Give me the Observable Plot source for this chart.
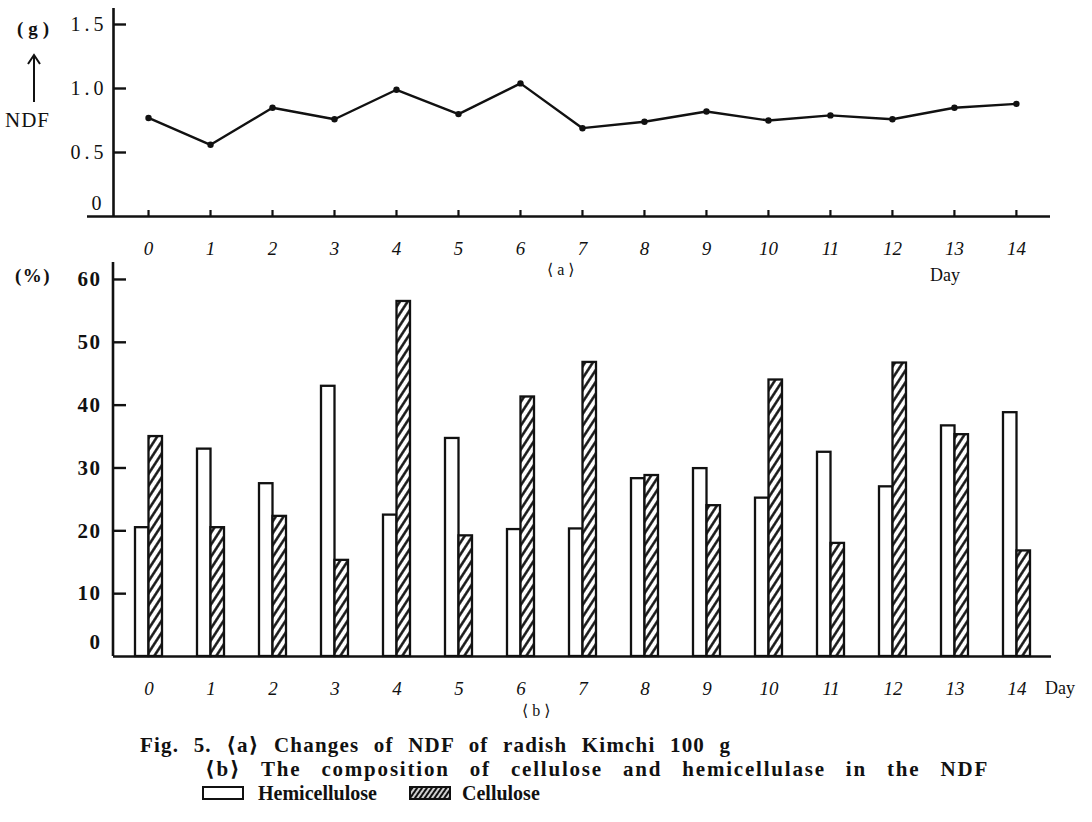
<!DOCTYPE html>
<html><head><meta charset="utf-8">
<script src="https://cdn.jsdelivr.net/npm/d3@7"></script>
<script src="https://cdn.jsdelivr.net/npm/@observablehq/plot@0.6"></script>
<style>
html,body{margin:0;padding:0;background:#fff;}
#wrap{position:relative;width:1092px;height:822px;overflow:hidden;font-family:"Liberation Serif","DejaVu Serif",serif;color:#111;}
.abs{position:absolute;white-space:nowrap;line-height:1;}
#chartA{position:absolute;left:0;top:0;}
#chartB{position:absolute;left:0;top:255px;}
#chartA svg, #chartB svg, #chartA svg text, #chartB svg text, #chartA svg g, #chartB svg g{font-family:"Liberation Serif","DejaVu Serif",serif !important;}
#chartA g[aria-label="y-axis tick label"]{letter-spacing:4px;}
#chartB g[aria-label="y-axis tick label"]{letter-spacing:1.5px;}
.cap{font-weight:bold;font-size:20px;}
.l1{font-size:21px;letter-spacing:1.2px;word-spacing:8px;}
.l2{font-size:21px;letter-spacing:1.8px;word-spacing:13px;}
</style></head>
<body>
<svg width="0" height="0" style="position:absolute">
  <defs>
    <pattern id="hatch" patternUnits="userSpaceOnUse" width="6.5" height="6.5" patternTransform="rotate(33)">
      <rect width="6.5" height="6.5" fill="white"/>
      <line x1="3.25" y1="-1" x2="3.25" y2="7.5" stroke="#111" stroke-width="2.5"/>
    </pattern>
    <pattern id="hatchDense" patternUnits="userSpaceOnUse" width="4" height="4" patternTransform="rotate(35)">
      <rect width="4" height="4" fill="white"/>
      <line x1="2" y1="-1" x2="2" y2="5" stroke="#111" stroke-width="2.4"/>
    </pattern>
  </defs>
</svg>
<div id="wrap">
  <div id="chartA"></div>
  <div id="chartB"></div>
  <div class="abs" style="left:17px;top:19px;font-size:19px;font-weight:bold;letter-spacing:5px;">(g)</div>
  <svg class="abs" style="left:26px;top:52px;" width="16" height="52">
    <line x1="8" y1="4" x2="8" y2="50" stroke="#111" stroke-width="2"/>
    <path d="M2,12 L8,3 L14,12" fill="none" stroke="#111" stroke-width="2"/>
  </svg>
  <div class="abs" style="left:5px;top:110px;font-size:21px;letter-spacing:1px;">NDF</div>
  <div class="abs" style="left:547px;top:262px;font-size:16px;">⟨ a ⟩</div>
  <div class="abs" style="left:930px;top:266px;font-size:18px;">Day</div>
  <div class="abs" style="left:15px;top:266px;font-size:19px;font-weight:bold;letter-spacing:1.5px;">(%)</div>
  <div class="abs" style="left:1045px;top:679px;font-size:18px;">Day</div>
  <div class="abs" style="left:522px;top:703px;font-size:16px;">⟨ b ⟩</div>
  <div class="abs cap l1" style="left:140px;top:735px;">Fig. 5. ⟨a⟩ Changes of NDF of radish Kimchi 100 g</div>
  <div class="abs cap l2" style="left:205px;top:759px;">⟨b⟩ The composition of cellulose and hemicellulase in the NDF</div>
  <svg class="abs" style="left:200px;top:785px;" width="48" height="18">
    <rect x="3" y="2" width="40" height="12" fill="white" stroke="#111" stroke-width="2"/>
  </svg>
  <div class="abs cap" style="left:258px;top:783px;">Hemicellulose</div>
  <svg class="abs" style="left:407px;top:785px;" width="48" height="18">
    <rect x="3" y="2" width="40" height="12" fill="url(#hatchDense)" stroke="#111" stroke-width="2"/>
  </svg>
  <div class="abs cap" style="left:462px;top:783px;">Cellulose</div>
</div>
<script>
// ---- data ----
const days = [0,1,2,3,4,5,6,7,8,9,10,11,12,13,14];
const ndf = [0.77,0.56,0.85,0.76,0.99,0.80,1.04,0.69,0.74,0.82,0.75,0.79,0.76,0.85,0.88];
const hemicellulose = [20.5,33.0,27.5,43.0,22.5,34.7,20.2,20.3,28.3,29.9,25.2,32.5,27.0,36.7,38.8];
const cellulose = [35.0,20.5,22.3,15.3,56.5,19.2,41.3,46.8,28.8,24.0,44.0,18.0,46.7,35.3,16.8];
const ndfTicks = [0,0.5,1.0,1.5];
const pctTicks = [0,10,20,30,40,50,60];

const ink = "#111";
const serif = "Liberation Serif";
const rowsA = days.map((d,i)=>({day:d, ndf:ndf[i]}));
const rowsB = days.map((d,i)=>({day:d, hemi:hemicellulose[i], cell:cellulose[i]}));

// ---- (a) NDF line ----
const W = 1092;
const aM = {l:113, r:42, t:8, b:74}, aH = 290;
const aXDomain = [-0.565, 14.55];
const aFrameW = W - aM.l - aM.r, aFrameH = aH - aM.t - aM.b;
const fmtA = d => d === 0 ? "0" : d.toFixed(1);
const plotA = Plot.plot({
  width: W, height: aH,
  marginLeft: aM.l, marginRight: aM.r, marginTop: aM.t, marginBottom: aM.b,
  x: {type:"linear", domain: aXDomain},
  y: {domain: [0, 1.625]},
  style: {fontFamily: serif, color: ink, background: "transparent", overflow: "visible"},
  marks: [
    Plot.ruleX([aXDomain[0]], {stroke: ink, strokeWidth: 2.6}),
    Plot.ruleY([0], {stroke: ink, strokeWidth: 2.6, insetLeft: -26}),
    Plot.ruleY(ndfTicks.slice(1), {stroke: ink, strokeWidth: 2.4, insetRight: aFrameW - 13}),
    Plot.ruleX(days, {stroke: ink, strokeWidth: 2.2, insetTop: aFrameH - 6}),
    Plot.line(rowsA, {x: "day", y: "ndf", stroke: ink, strokeWidth: 2.4}),
    Plot.dot(rowsA, {x: "day", y: "ndf", r: 3.2, fill: ink}),
    Plot.axisY(ndfTicks.slice(1), {tickSize: 0, tickPadding: 6, label: null, fontSize: 20, fontFamily: serif, tickFormat: fmtA}),
    Plot.axisY(ndfTicks.slice(0,1), {tickSize: 0, tickPadding: 8, label: null, fontSize: 20, fontFamily: serif, dy: -13, tickFormat: fmtA}),
    Plot.axisX(days, {tickSize: 0, tickPadding: 25, label: null, fontSize: 19, fontFamily: serif, fontStyle: "italic"})
  ]
});
document.getElementById("chartA").append(plotA);

// ---- (b) composition bars ----
const bM = {l:113, r:41, t:7, b:44}, bH = 445;
const bFrameW = W - bM.l - bM.r;
const leftLine = (index, scales, values, dim) => {
  return d3.create("svg:line")
    .attr("x1", dim.marginLeft).attr("x2", dim.marginLeft)
    .attr("y1", dim.marginTop).attr("y2", dim.height - dim.marginBottom)
    .attr("stroke", ink).attr("stroke-width", 2.6).node();
};
const plotB = Plot.plot({
  width: W, height: bH,
  marginLeft: bM.l, marginRight: bM.r, marginTop: bM.t, marginBottom: bM.b,
  x: {type: "band", domain: days, paddingInner: 0.565, paddingOuter: 0.347},
  y: {domain: [0, 62.7]},
  style: {fontFamily: serif, color: ink, background: "transparent", overflow: "visible"},
  marks: [
    Plot.barY(rowsB, {x: "day", y: "hemi", insetRight: 13.5, fill: "white", stroke: ink, strokeWidth: 2.3}),
    Plot.barY(rowsB, {x: "day", y: "cell", insetLeft: 13.5, fill: "url(#hatch)", stroke: ink, strokeWidth: 2.3}),
    leftLine,
    Plot.ruleY([0], {stroke: ink, strokeWidth: 2.6}),
    Plot.ruleY(pctTicks.slice(1), {stroke: ink, strokeWidth: 2.4, insetRight: bFrameW - 13}),
    Plot.axisY(pctTicks.slice(1), {tickSize: 0, tickPadding: 12, label: null, fontSize: 21, fontFamily: serif, fontWeight: "bold"}),
    Plot.axisY(pctTicks.slice(0,1), {tickSize: 0, tickPadding: 12, label: null, fontSize: 21, fontFamily: serif, fontWeight: "bold", dy: -14}),
    Plot.axisX(days, {tickSize: 0, tickPadding: 25, label: null, fontSize: 19, fontFamily: serif, fontStyle: "italic"})
  ]
});
document.getElementById("chartB").append(plotB);
</script>
</body></html>
